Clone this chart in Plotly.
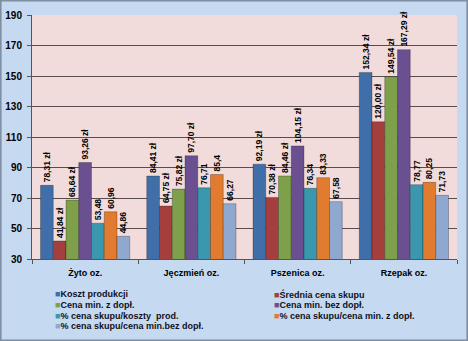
import plotly.graph_objects as go

categories = ["Żyto oz.", "Jęczmień oz.", "Pszenica oz.", "Rzepak oz."]

series_names = [
    "Koszt produkcji",
    "Średnia cena skupu",
    "Cena min. z dopł.",
    "Cena min. bez dopł.",
    "% cena skupu/koszty  prod.",
    "% cena skupu/cena min. z dopł.",
    "% cena skupu/cena min.bez dopł.",
]

koszt_produkcji = [78.31, 84.41, 92.19, 152.34]
srednia_cena_skupu = [41.84, 64.75, 70.38, 120.00]
cena_min_z_dopl = [68.64, 75.82, 84.46, 149.54]
cena_min_bez_dopl = [93.26, 97.70, 104.15, 167.29]
proc_skup_koszty = [53.48, 76.71, 76.34, 78.77]
proc_skup_min_z = [60.96, 85.4, 83.33, 80.25]
proc_skup_min_bez = [44.86, 66.27, 67.58, 71.73]

series_values = [koszt_produkcji, srednia_cena_skupu, cena_min_z_dopl, cena_min_bez_dopl,
                 proc_skup_koszty, proc_skup_min_z, proc_skup_min_bez]
is_money = [True, True, True, True, False, False, False]

colors = ["#3F6EA8", "#A43F3D", "#7FA04A", "#6A5090", "#3A97AE", "#E07B30", "#8FA8D0"]

y_ticks = [30, 50, 70, 90, 110, 130, 150, 170, 190]

FONT = "Liberation Sans, Arial, sans-serif"

def fmt(v, money):
    if money:
        return f"{v:.2f}".replace(".", ",") + " zł"
    s = f"{v:.2f}".rstrip("0").rstrip(".")
    return s.replace(".", ",")

fig = go.Figure()
for name, vals, money, col in zip(series_names, series_values, is_money, colors):
    fig.add_trace(go.Bar(
        name=name, x=categories, y=vals,
        marker=dict(color=col, line=dict(width=0.5, color="rgba(0,0,0,0.5)")),
        text=[fmt(v, money) for v in vals],
        textposition="outside", textangle=-90,
        textfont=dict(family=FONT, size=8.5, color="black", weight="bold"),
        constraintext="none", cliponaxis=False,
    ))

L, R, T, B = 32, 11, 15, 82
W, H = 468, 341
pw, ph = W - L - R, H - T - B

def px_x(x):
    return (x - L) / pw

def px_y(y):
    return (H - B - y) / ph

annotations = []
left_items = [0, 2, 4, 6]
right_items = [1, 3, 5]
row_y = [294, 305, 315.5, 326]
for col_x, items in ((53, left_items), (272, right_items)):
    for r, idx in enumerate(items):
        annotations.append(dict(
            xref="paper", yref="paper", x=px_x(col_x), y=px_y(row_y[r]),
            xanchor="left", yanchor="middle", showarrow=False,
            text=f'<span style="color:{colors[idx]}">■</span><b>{series_names[idx]}</b>',
            font=dict(family=FONT, size=9, color="#111122"),
        ))

fig.update_layout(
    width=W, height=H,
    margin=dict(l=L, r=R, t=T, b=B),
    paper_bgcolor="#C5D9F1",
    plot_bgcolor="#F2DCDB",
    barmode="group", bargap=0.16, bargroupgap=0,
    showlegend=False,
    annotations=annotations,
    xaxis=dict(
        showline=True, linecolor="#555555", linewidth=1,
        ticks="outside", tickson="boundaries", ticklen=4, tickcolor="#555555",
        tickfont=dict(family=FONT, size=9, color="black", weight="bold"),
        ticklabelstandoff=5, automargin=False,
        showgrid=False,
    ),
    yaxis=dict(
        range=[30, 190], tickvals=y_ticks, ticktext=[str(t) for t in y_ticks],
        showline=True, linecolor="#555555", linewidth=1,
        ticks="outside", ticklen=4, tickcolor="#555555",
        gridcolor="#584C4C", gridwidth=1,
        tickfont=dict(family=FONT, size=10, color="black", weight="bold"),
        ticklabelstandoff=3, automargin=False,
        zeroline=False,
    ),
    shapes=[dict(
        type="rect", xref="paper", yref="paper", layer="above",
        x0=px_x(0.8), x1=px_x(W - 0.8), y0=px_y(H - 0.8), y1=px_y(0.8),
        line=dict(color="#7F8EA3", width=1.6), fillcolor="rgba(0,0,0,0)",
    )],
)

fig.write_html("out.html")
